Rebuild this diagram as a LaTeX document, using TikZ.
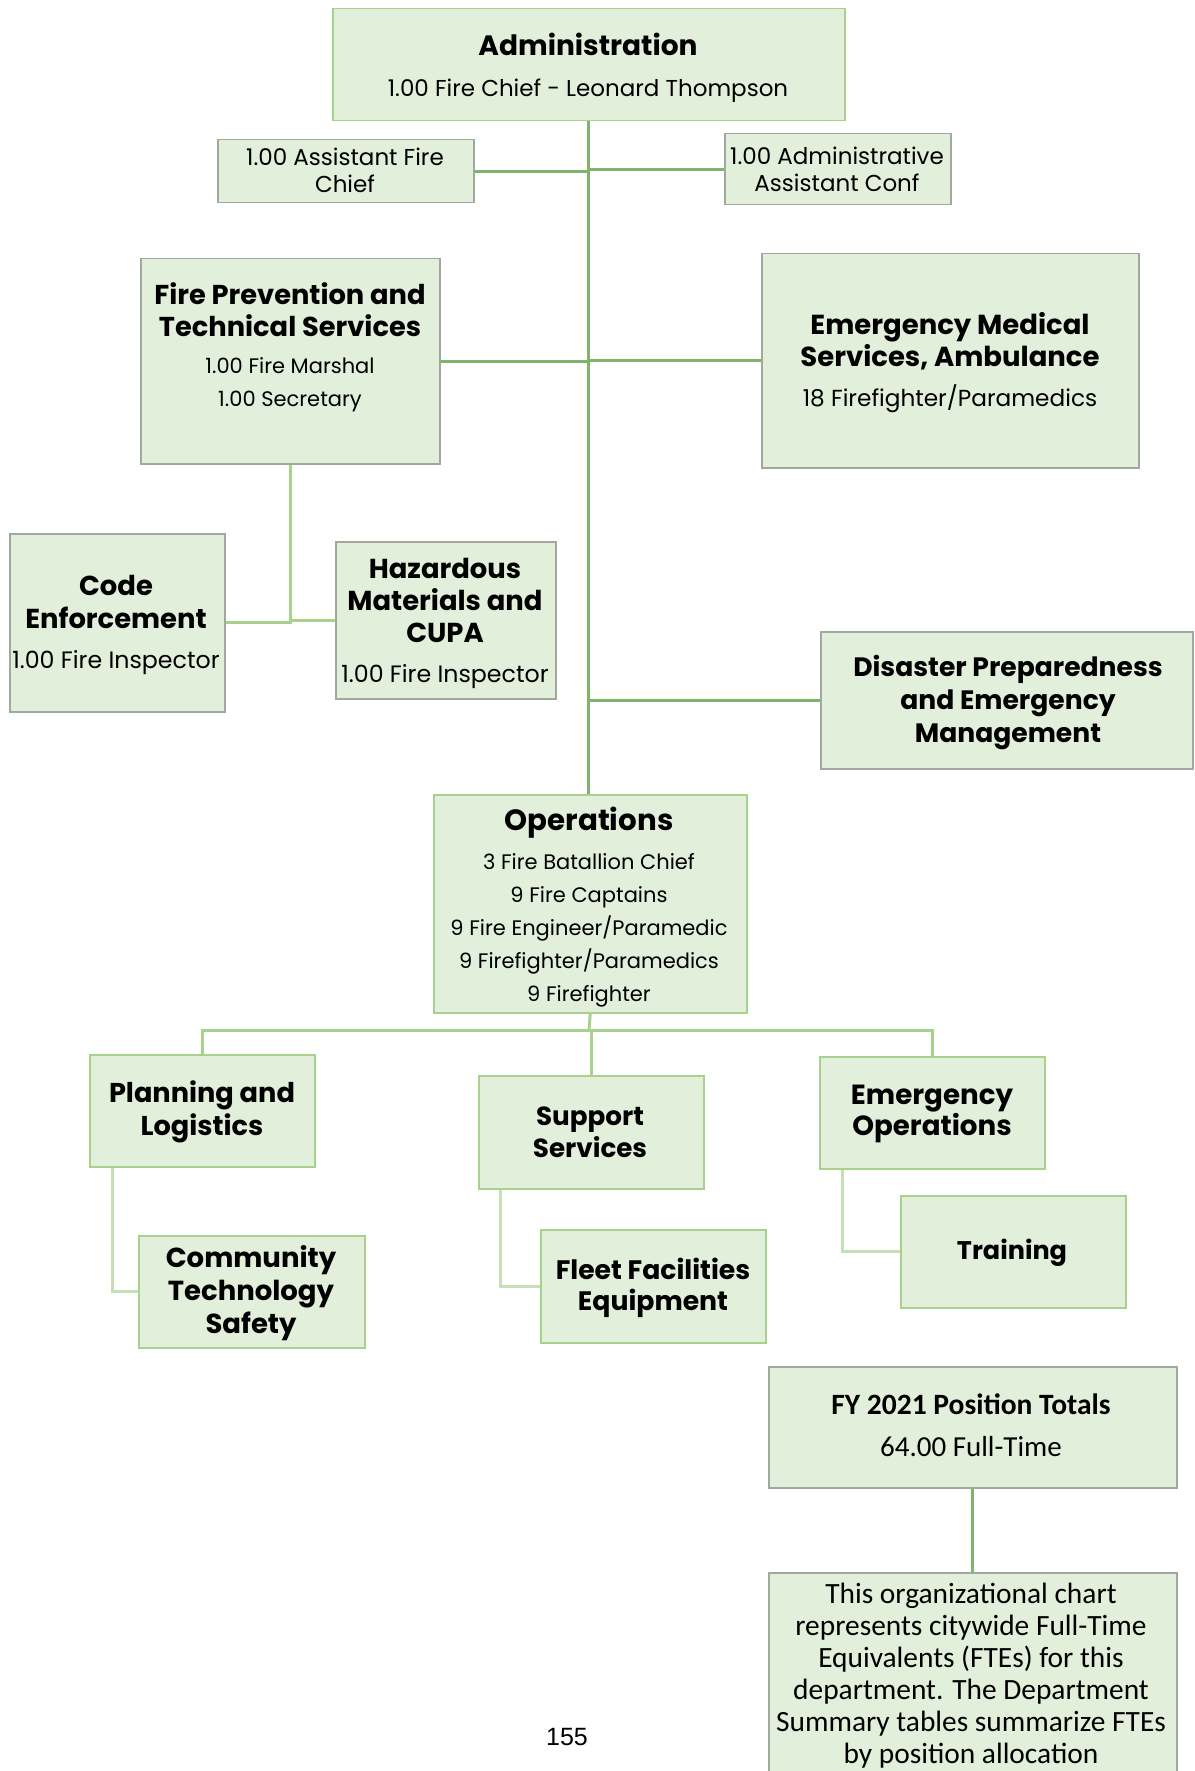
\documentclass[tikz,border=0pt]{standalone}
\usepackage{fontspec}
\setmainfont{Poppins}
\newfontfamily\calibrifont{Carlito}
\newfontfamily\arialfont{Liberation Sans}
\definecolor{boxfill}{HTML}{E2EFDA}
\definecolor{boxgreen}{HTML}{A9D18E}
\definecolor{boxgray}{HTML}{A3A89F}
\definecolor{trunkgreen}{HTML}{7FB56A}
\definecolor{branchgreen}{HTML}{A9D18E}
\definecolor{twiggreen}{HTML}{C5E0B4}
\newcommand{\setfs}[2]{\fontsize{#1}{#2}\selectfont}
\tikzstyle{box} = [rectangle, draw=boxgray, fill=boxfill, line width=1.5pt, anchor=north west, inner sep=0pt]
\tikzstyle{gbox} = [box, draw=boxgreen]
\tikzstyle{head} = [align=center, inner sep=0pt]
\tikzstyle{trunk} = [draw=trunkgreen, line width=3pt]
\tikzstyle{branch} = [draw=branchgreen, line width=3pt]
\tikzstyle{twig} = [draw=twiggreen, line width=3pt]

\begin{document}
\begin{tikzpicture}[x=1pt, y=-1pt]

  \useasboundingbox (0,0) rectangle (1194,1771);
  \clip (0,0) rectangle (1194,1771);

  % boxes
  \node[gbox, minimum width=512, minimum height=112] (admin) at (332,8) {};
  \node[box, minimum width=256, minimum height=63] (asst) at (217,139) {};
  \node[box, minimum width=226, minimum height=71] (adas) at (724,133) {};
  \node[box, minimum width=299, minimum height=205] (fp) at (140,258) {};
  \node[box, minimum width=377, minimum height=214] (ems) at (761,253) {};
  \node[box, minimum width=215, minimum height=178] (code) at (9,533) {};
  \node[box, minimum width=220, minimum height=157] (haz) at (335,541) {};
  \node[box, minimum width=372, minimum height=137] (dis) at (820,631) {};
  \node[gbox, minimum width=313, minimum height=218] (ops) at (433,794) {};
  \node[gbox, minimum width=225, minimum height=112] (plan) at (89,1054) {};
  \node[gbox, minimum width=225, minimum height=113] (supp) at (478,1075) {};
  \node[gbox, minimum width=225, minimum height=112] (emops) at (819,1056) {};
  \node[gbox, minimum width=226, minimum height=112] (comm) at (138,1235) {};
  \node[gbox, minimum width=225, minimum height=113] (fleet) at (540,1229) {};
  \node[gbox, minimum width=225, minimum height=112] (train) at (900,1195) {};
  \node[box, minimum width=408, minimum height=121] (fy) at (768,1366) {};
  \node[box, minimum width=408, minimum height=230] (note) at (768,1572) {};

  % connectors
  \draw[trunk] (admin.south) -- (admin.south |- ops.north);
  \draw[trunk] (asst.east) -- (asst.east -| admin.south);
  \draw[trunk] (adas.west) -- (adas.west -| admin.south);
  \draw[trunk] (fp.east) -- (fp.east -| admin.south);
  \draw[trunk] (ems.west) -- (ems.west -| admin.south);
  \draw[trunk] (dis.west) -- (dis.west -| admin.south);
  \draw[branch] (fp.south) |- (code.east);
  \draw[branch] (fp.south |- haz.west) -- (haz.west);

  \coordinate (bus) at (589,1030);
  \draw[branch] (ops.south) -- (bus);
  \draw[branch] (plan.north) |- (bus) -| (emops.north);
  \draw[branch] (supp.north) -- (supp.north |- bus);
  \draw[twig] ([xshift=23pt]plan.south west) |- (comm.west);
  \draw[twig] ([xshift=22pt]supp.south west) |- (fleet.west);
  \draw[twig] ([xshift=23pt]emops.south west) |- (train.west);
  \draw[trunk] (fy.south) -- (fy.south |- note.north);

  % texts
  \node[head, font=\setfs{28}{32}\bfseries] (admin-title) at (588,44) {Administration};
  \node[head, font=\setfs{23}{33}] (admin-staff) at (588,91) {1.00 Fire Chief - Leonard Thompson};
  \node[head, font=\setfs{23}{27}] (asst-text) at (345,170) {1.00 Assistant Fire\\Chief};
  \node[head, font=\setfs{23}{27}] (adas-text) at (837,169) {1.00 Administrative\\Assistant Conf};

  \node[head, font=\setfs{27.3}{32}\bfseries] (fp-title) at (290,310) {Fire Prevention and\\Technical Services};
  \node[head, font=\setfs{21}{33}] (fp-staff) at (290,385) {1.00 Fire Marshal\\1.00 Secretary};
  \node[head, font=\setfs{27.5}{32}\bfseries] (ems-title) at (950,341) {Emergency Medical\\Services, Ambulance};
  \node[head, font=\setfs{23.2}{33}] (ems-staff) at (950,399) {18 Firefighter/Paramedics};

  \node[head, font=\setfs{27.4}{33}\bfseries] (code-title) at (116,602) {Code\\Enforcement};
  \node[head, font=\setfs{23.7}{33}] (code-staff) at (116,663) {1.00 Fire Inspector};
  \node[head, font=\setfs{27.4}{32}\bfseries] (haz-title) at (445,600) {Hazardous\\Materials and\\CUPA};
  \node[head, font=\setfs{23.7}{33}] (haz-staff) at (445,677) {1.00 Fire Inspector};
  \node[head, font=\setfs{26.6}{33}\bfseries] (dis-title) at (1008,702) {Disaster Preparedness\\and Emergency\\Management};

  \node[head, font=\setfs{29.3}{33}\bfseries] (ops-title) at (589,823) {Operations};
  \node[head, font=\setfs{21}{33}] (ops-staff) at (589,930) {3 Fire Batallion Chief\\9 Fire Captains\\9 Fire Engineer/Paramedic\\9 Firefighter/Paramedics\\9 Firefighter};

  \node[head, font=\setfs{27.2}{33}\bfseries] (plan-title) at (202,1112) {Planning and\\Logistics};
  \node[head, font=\setfs{26.2}{32}\bfseries] (supp-title) at (590,1132) {Support\\Services};
  \node[head, font=\setfs{27.7}{31}\bfseries] (emops-title) at (932,1114) {Emergency\\Operations};
  \node[head, font=\setfs{27.5}{33}\bfseries] (comm-title) at (251,1293) {Community\\Technology\\Safety};
  \node[head, font=\setfs{26.7}{31}\bfseries] (fleet-title) at (653,1288) {Fleet Facilities\\Equipment};
  \node[head, font=\setfs{25.5}{32}\bfseries] (train-title) at (1012,1253) {Training};

  \node[head, font=\calibrifont\setfs{29.5}{32}\bfseries] (fy-title) at (971,1404) {FY 2021 Position Totals};
  \node[head, font=\calibrifont\setfs{29}{32}] (fy-total) at (971,1447) {64.00 Full-Time};
  \node[head, font=\calibrifont\setfs{29.4}{32}, anchor=north] (note-text) at (971,1583) {This organizational chart\\represents citywide Full-Time\\Equivalents (FTEs) for this\\department. The Department\\Summary tables summarize FTEs\\by position allocation};

  \node[font=\arialfont\setfs{25}{30}] (page-no) at (567,1737) {155};

\end{tikzpicture}
\end{document}
